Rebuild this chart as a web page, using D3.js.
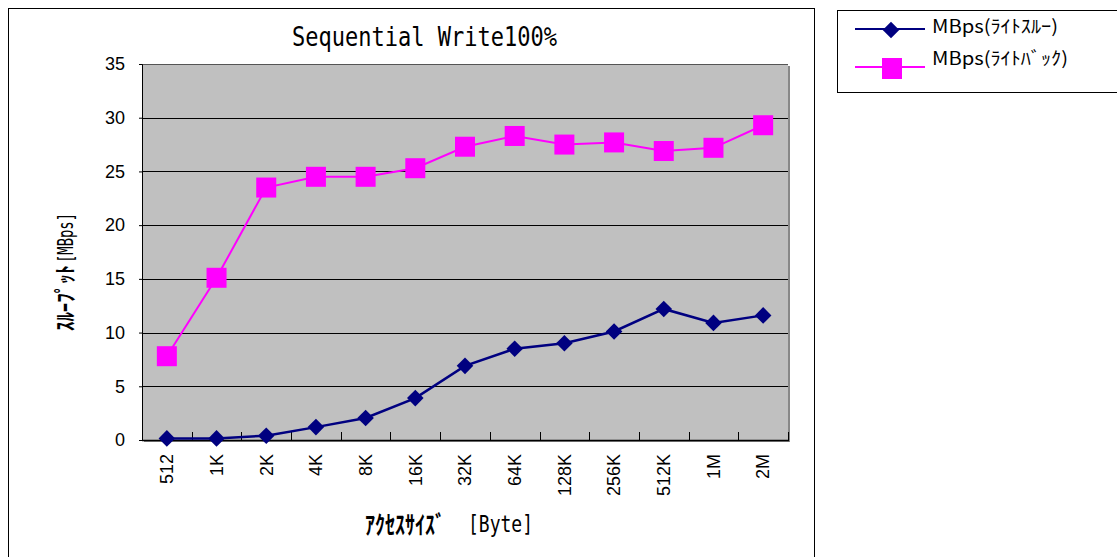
<!DOCTYPE html>
<html><head><meta charset="utf-8">
<script src="https://cdn.jsdelivr.net/npm/d3@7"></script>
<style>body{margin:0;background:#fff;}svg{display:block;}</style>
</head><body>
<script>
const categories = ["512","1K","2K","4K","8K","16K","32K","64K","128K","256K","512K","1M","2M"];
const writeThrough = [0.15,0.15,0.4,1.2,2.05,3.9,6.9,8.5,9.0,10.1,12.2,10.9,11.6];
const writeBack = [7.8,15.1,23.5,24.5,24.5,25.3,27.3,28.3,27.5,27.7,26.9,27.2,29.3];
const yTicks = [0,5,10,15,20,25,30,35];
const seriesNames = ["MBps(ﾗｲﾄｽﾙｰ)","MBps(ﾗｲﾄﾊﾞｯｸ)"];
const title = "Sequential Write100%";
const yTitleKana = "ｽﾙｰﾌﾟｯﾄ", yTitleUnit = "[MBps]";
const xTitleKana = "ｱｸｾｽｻｲｽﾞ", xTitleUnit = "[Byte]";

const W=1117,H=557;
const svg=d3.select("body").append("svg").attr("width",W).attr("height",H);
svg.append("rect").attr("x",8.5).attr("y",8.5).attr("width",806).attr("height",560).attr("fill","#fff").attr("stroke","#000");

const L=142,R=788,T=64,B=440;
const x=d3.scaleBand().domain(categories).range([L,R]);
const y=d3.scaleLinear().domain([0,35]).range([B,T]);
const cx=d=>x(d)+x.bandwidth()/2;

// shadow + plot bg
svg.append("rect").attr("x",L+2).attr("y",T+2).attr("width",R-L).attr("height",B-T).attr("fill","#888");
svg.append("rect").attr("x",L).attr("y",T).attr("width",R-L).attr("height",B-T).attr("fill","#c0c0c0");
svg.append("g").selectAll("line").data(yTicks.filter(d=>d>0)).join("line")
 .attr("x1",L).attr("x2",R).attr("y1",d=>Math.round(y(d))+0.5).attr("y2",d=>Math.round(y(d))+0.5)
 .attr("stroke",d=>d===35?"#555":"#000").attr("stroke-width",1);
// y axis
const ya=svg.append("g").attr("transform",`translate(${L},0)`)
 .call(d3.axisLeft(y).tickValues(yTicks).tickSize(3).tickPadding(14));
ya.select(".domain").attr("stroke","#000");
ya.selectAll("text").attr("font-family","Liberation Sans, Arial, sans-serif").attr("font-size",18).attr("fill","#000");
// x axis
svg.append("line").attr("x1",L).attr("x2",R+1).attr("y1",B+0.5).attr("y2",B+0.5).attr("stroke","#000").attr("stroke-width",1.5);
svg.append("g").selectAll("line").data(categories).join("line")
 .attr("x1",d=>Math.round(x(d)+x.step())+0.5).attr("x2",d=>Math.round(x(d)+x.step())+0.5)
 .attr("y1",B).attr("y2",B-8).attr("stroke","#000");
svg.append("g").selectAll("text").data(categories).join("text")
 .attr("transform",d=>`translate(${cx(d)},${B+14}) rotate(-90)`)
 .attr("text-anchor","end").attr("dy","0.35em")
 .attr("font-family","Liberation Sans, Arial, sans-serif").attr("font-size",18).attr("fill","#000")
 .text(d=>d);

const line=d3.line().x((d,i)=>cx(categories[i])).y(d=>y(d));
svg.append("path").datum(writeBack).attr("d",line).attr("fill","none").attr("stroke","#ff00ff").attr("stroke-width",2);
svg.append("path").datum(writeThrough).attr("d",line).attr("fill","none").attr("stroke","#000080").attr("stroke-width",2.5);
svg.append("g").selectAll("rect").data(writeBack).join("rect")
 .attr("x",(d,i)=>cx(categories[i])-10).attr("y",d=>y(d)-10).attr("width",20).attr("height",20).attr("fill","#ff00ff");
const diamond=d3.symbol().type(d3.symbolDiamond2).size(175);
svg.append("g").selectAll("path").data(writeThrough).join("path")
 .attr("d",diamond).attr("transform",(d,i)=>`translate(${cx(categories[i])},${y(d)})`).attr("fill","#000080");

// titles
svg.append("text").attr("x",292).attr("y",46).attr("textLength",265).attr("lengthAdjust","spacingAndGlyphs")
 .attr("font-family","DejaVu Sans Mono, monospace").attr("font-size",27).text(title);
const yt=svg.append("g").attr("transform","translate(73,0) rotate(-90)");
yt.append("text").attr("x",-331).attr("y",0).attr("textLength",66).attr("lengthAdjust","spacingAndGlyphs")
 .attr("font-family","Noto Sans CJK JP, sans-serif").attr("font-size",22).attr("font-weight","bold").text(yTitleKana);
yt.append("text").attr("x",-263).attr("y",0).attr("textLength",50).attr("lengthAdjust","spacingAndGlyphs")
 .attr("font-family","DejaVu Sans Mono, monospace").attr("font-size",21).text(yTitleUnit);
svg.append("text").attr("x",365).attr("y",534).attr("textLength",80).attr("lengthAdjust","spacingAndGlyphs")
 .attr("font-family","Noto Sans CJK JP, sans-serif").attr("font-size",25).attr("font-weight","bold").text(xTitleKana);
svg.append("text").attr("x",468).attr("y",532).attr("textLength",65).attr("lengthAdjust","spacingAndGlyphs")
 .attr("font-family","DejaVu Sans Mono, monospace").attr("font-size",23).text(xTitleUnit);

// legend
const lg=svg.append("g");
lg.append("rect").attr("x",837.5).attr("y",10.5).attr("width",290).attr("height",82).attr("fill","#fff").attr("stroke","#000");
lg.append("line").attr("x1",855).attr("x2",925).attr("y1",29).attr("y2",29).attr("stroke","#000080").attr("stroke-width",2);
lg.append("path").attr("d",diamond).attr("transform","translate(891,30)").attr("fill","#000080");
lg.append("line").attr("x1",855).attr("x2",925).attr("y1",67).attr("y2",67).attr("stroke","#ff00ff").attr("stroke-width",2);
lg.append("rect").attr("x",882).attr("y",58).attr("width",20).attr("height",21).attr("fill","#ff00ff");
const legendW=[126,136];
lg.selectAll("text.l").data(seriesNames).join("text").attr("class","l")
 .attr("x",932).attr("y",(d,i)=>i===0?33:65).attr("textLength",(d,i)=>legendW[i]).attr("lengthAdjust","spacingAndGlyphs")
 .attr("font-family","Noto Sans CJK JP, sans-serif").attr("font-size",18).text(d=>d);
</script>
</body></html>
